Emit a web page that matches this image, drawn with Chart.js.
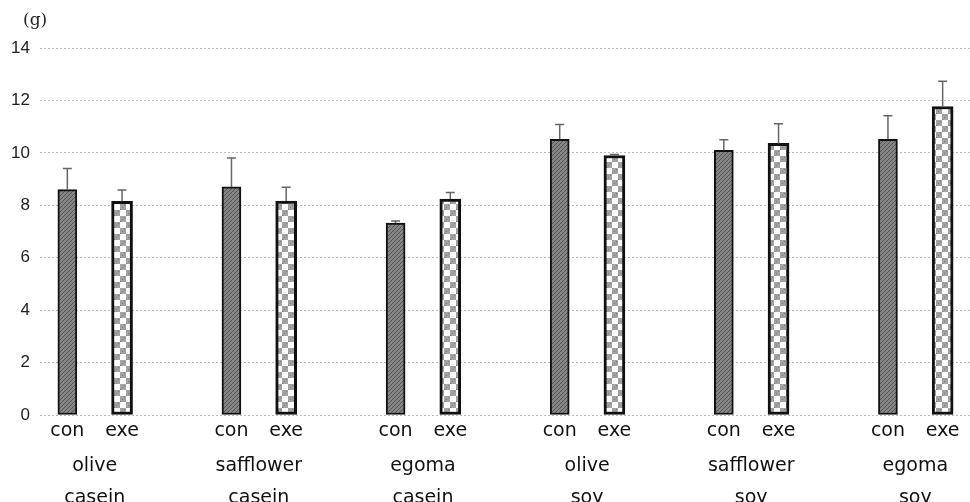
<!DOCTYPE html>
<html lang="en">
<head>
    <meta charset="UTF-8">
    <title>Weight gain by oil and protein</title>
    <script src="https://cdn.jsdelivr.net/npm/chart.js"></script>
    <style>
        html, body {
            margin: 0;
            padding: 0;
            background: #ffffff;
        }
        .wrap {
            position: relative;
            width: 970px;
            height: 502px;
        }
    </style>
</head>
<body>
    <div class="wrap"><canvas id="gainChart"></canvas></div>

    <script>
        // Groups: oil / protein source
        const oils = ["olive", "safflower", "egoma", "olive", "safflower", "egoma"];
        const proteins = ["casein", "casein", "casein", "soy", "soy", "soy"];

        // con = control, exe = exercise (g), with upper error
        const conValues = [8.6, 8.7, 7.32, 10.52, 10.1, 10.52];
        const conErrors = [0.8, 1.1, 0.08, 0.56, 0.4, 0.9];
        const exeValues = [8.15, 8.16, 8.24, 9.9, 10.36, 11.77];
        const exeErrors = [0.43, 0.53, 0.25, 0.04, 0.75, 0.96];

        const yMin = 0, yMax = 14, yStep = 2;

        // each group takes three slots: con, exe, gap
        const slotLabels = [];
        const conData = [];
        const exeData = [];
        oils.forEach((o, i) => {
            slotLabels.push("con", "exe");
            conData.push(conValues[i], null);
            exeData.push(null, exeValues[i]);
            if (i < oils.length - 1) {
                slotLabels.push("");
                conData.push(null);
                exeData.push(null);
            }
        });

        // Fill patterns
        function conPattern() {
            const c = document.createElement('canvas');
            c.width = 4; c.height = 4;
            const g = c.getContext('2d');
            g.fillStyle = '#858585';
            g.fillRect(0, 0, 4, 4);
            g.fillStyle = '#555555';
            for (let i = 0; i < 4; i++) g.fillRect(i, 3 - i, 1, 1);
            return g.createPattern(c, 'repeat');
        }

        function exePattern() {
            const c = document.createElement('canvas');
            c.width = 12; c.height = 12;
            const g = c.getContext('2d');
            g.fillStyle = '#ffffff';
            g.fillRect(0, 0, 12, 12);
            g.fillStyle = '#a2a2a2';
            g.fillRect(0, 0, 6, 6);
            g.fillRect(6, 6, 6, 6);
            g.fillStyle = '#7a7a7a';
            for (let i = 0; i < 6; i += 2) {
                g.fillRect(i, 5 - i, 1, 1);
                g.fillRect(6 + i, 11 - i, 1, 1);
            }
            return g.createPattern(c, 'repeat');
        }

        // Upward error bars with a cap
        const errorBars = {
            id: 'errorBars',
            afterDatasetsDraw(chart) {
                const { ctx, scales: { x, y } } = chart;
                ctx.save();
                ctx.strokeStyle = '#666666';
                ctx.lineWidth = 1.5;
                [[conValues, conErrors, 0], [exeValues, exeErrors, 1]].forEach(([vals, errs, off]) => {
                    vals.forEach((v, i) => {
                        const px = x.getPixelForValue(3 * i + off);
                        const top = y.getPixelForValue(v);
                        const end = y.getPixelForValue(v + errs[i]);
                        ctx.beginPath();
                        ctx.moveTo(px, top);
                        ctx.lineTo(px, end);
                        ctx.moveTo(px - 4.5, end);
                        ctx.lineTo(px + 4.5, end);
                        ctx.stroke();
                    });
                });
                ctx.restore();
            }
        };

        // Unit label in the corner
        const unitLabel = {
            id: 'unitLabel',
            afterDraw(chart) {
                const ctx = chart.ctx;
                ctx.save();
                ctx.font = '17px "DejaVu Serif", "Liberation Serif", serif';
                ctx.fillStyle = '#222222';
                ctx.textBaseline = 'middle';
                ctx.fillText('(g)', 23, 21);
                ctx.restore();
            }
        };

        const labelFont = { family: '"DejaVu Sans", sans-serif', size: 19 };

        const ctx = document.getElementById('gainChart').getContext('2d');
        new Chart(ctx, {
            type: 'bar',
            data: {
                labels: slotLabels,
                datasets: [
                    {
                        label: 'con',
                        data: conData,
                        backgroundColor: conPattern(),
                        borderColor: '#111111',
                        borderWidth: 2,
                        borderSkipped: false,
                        barThickness: 19
                    },
                    {
                        label: 'exe',
                        data: exeData,
                        backgroundColor: exePattern(),
                        borderColor: '#111111',
                        borderWidth: 3,
                        borderSkipped: false,
                        barThickness: 21
                    }
                ]
            },
            options: {
                responsive: true,
                maintainAspectRatio: false,
                animation: false,
                events: [],
                grouped: false,
                layout: { padding: { top: 48, right: 0, bottom: 0, left: 0 } },
                plugins: {
                    legend: { display: false },
                    tooltip: { enabled: false }
                },
                scales: {
                    x: {
                        weight: 0,
                        grid: { display: false, drawTicks: false },
                        border: { display: false },
                        ticks: {
                            autoSkip: false,
                            maxRotation: 0,
                            padding: 5,
                            color: '#111111',
                            font: labelFont
                        },
                        afterFit: (scale) => { scale.height = 28; }
                    },
                    groups: {
                        type: 'linear',
                        position: 'bottom',
                        weight: 1,
                        bounds: 'data',
                        offset: false,
                        min: -0.5,
                        max: 16.5,
                        grid: { display: false, drawTicks: false, offset: false },
                        border: { display: false },
                        afterBuildTicks: (scale) => {
                            scale.ticks = oils.map((o, i) => ({ value: 3 * i + 0.5 }));
                        },
                        ticks: {
                            autoSkip: false,
                            maxRotation: 0,
                            padding: 7,
                            color: '#111111',
                            font: { family: '"DejaVu Sans", sans-serif', size: 19, lineHeight: '32px' },
                            callback: (value, index) => [oils[index], proteins[index]]
                        },
                        afterFit: (scale) => { scale.height = 59; }
                    },
                    y: {
                        min: yMin,
                        max: yMax,
                        ticks: {
                            stepSize: yStep,
                            padding: 10,
                            color: '#222222',
                            font: { family: '"Liberation Sans", Arial, sans-serif', size: 17 }
                        },
                        grid: {
                            color: '#b8b8b8',
                            lineWidth: 1,
                            drawTicks: false
                        },
                        border: { display: false, dash: [2, 2] },
                        afterFit: (scale) => { scale.width = 40; }
                    }
                }
            },
            plugins: [errorBars, unitLabel]
        });
    </script>
</body>
</html>
